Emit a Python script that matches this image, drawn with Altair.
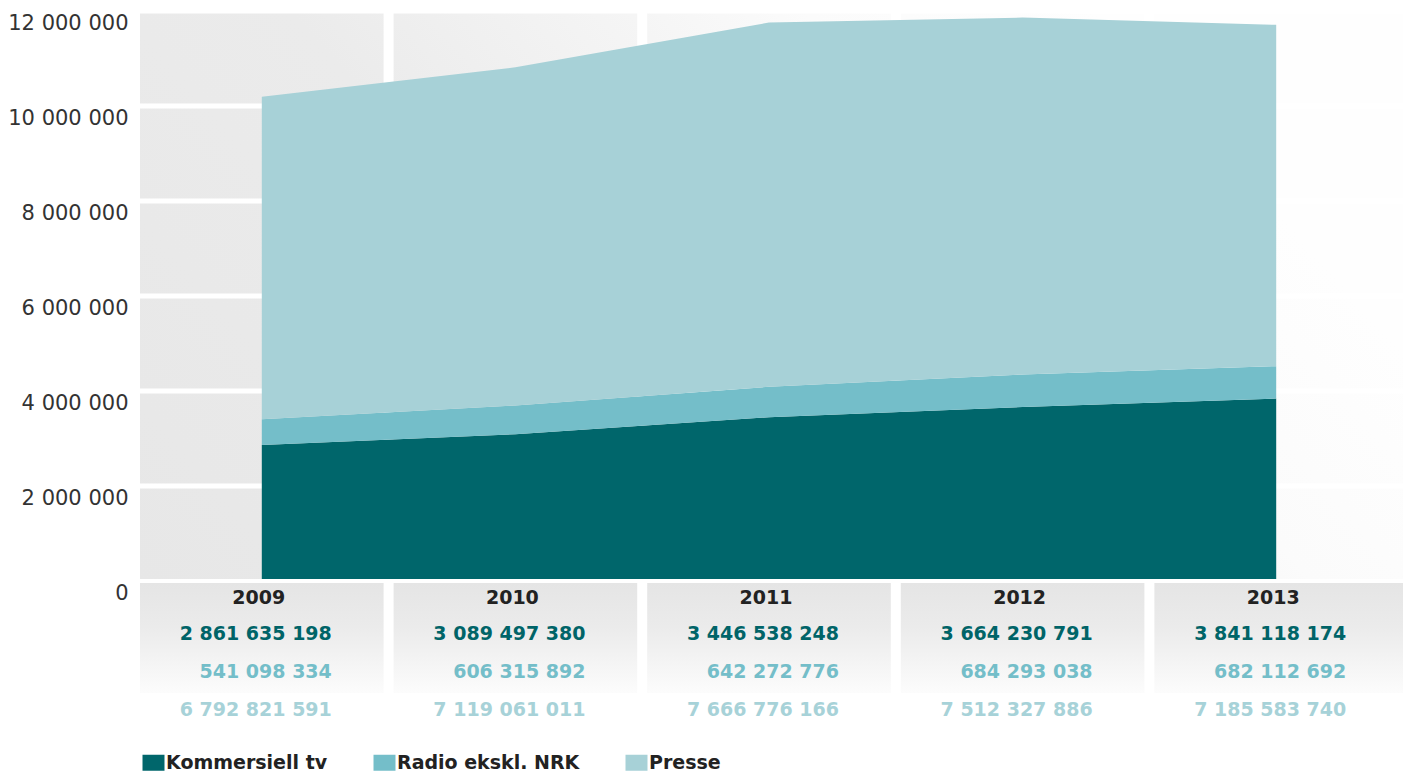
import altair as alt
import pandas as pd

# ---- data (NOK) ----
years = [2009, 2010, 2011, 2012, 2013]
series = ["Kommersiell tv", "Radio ekskl. NRK", "Presse"]
tv = [2861635198, 3089497380, 3446538248, 3664230791, 3841118174]
radio = [541098334, 606315892, 642272776, 684293038, 682112692]
presse = [6792821591, 7119061011, 7666776166, 7512327886, 7185583740]
yticks = [0, 2000000, 4000000, 6000000, 8000000, 10000000, 12000000]

colors = ["#00666b", "#74bec9", "#a7d1d7"]
text_colors = ["#006468", "#74bec9", "#a7d2d8"]

W, H = 1268, 570
FONT = "DejaVu Sans"

rows = []
for i, y in enumerate(years):
    for k, (s, vals) in enumerate(zip(series, [tv, radio, presse])):
        rows.append({"year": y, "series": s, "v": vals[i] / 1000.0, "ord": k})
long = pd.DataFrame(rows)

def fmt(n):
    return f"{n:,}".replace(",", " ")

table = pd.DataFrame({
    "year": years,
    "ylab": [str(y) for y in years],
    "tv": [fmt(v) for v in tv],
    "radio": [fmt(v) for v in radio],
    "presse": [fmt(v) for v in presse],
    "x0": [y - 0.5 for y in years],
    "x1": [y + 0.5 for y in years],
})
bg = pd.DataFrame({"x0": [years[0] - 0.5], "x1": [years[-1] + 0.5],
                   "v": [0], "v2": [yticks[-1]]})
hr = pd.DataFrame({"v": yticks[1:]})
zr = pd.DataFrame({"v": [0]})
vr = pd.DataFrame({"b": [y - 0.5 for y in years]})

xscale = alt.Scale(domain=[years[0] - 0.5, years[-1] + 0.5], nice=False, zero=False)
yscale = alt.Scale(domain=[0, yticks[-1]], nice=False)
yaxis = alt.Axis(values=yticks, grid=False, domain=False, ticks=False,
                 labelExpr="replace(format(datum.value, ','), regexp(',', 'g'), ' ')",
                 labelFont=FONT, labelFontSize=21, labelColor="#333333",
                 labelPadding=7, labelOffset=12, labelBaseline="middle", title=None)

bg_grad = alt.LinearGradient(
    gradient="linear", x1=0, y1=1, x2=1, y2=0.6,
    stops=[alt.GradientStop(color="#e7e7e7", offset=0),
           alt.GradientStop(color="#ebebeb", offset=0.45),
           alt.GradientStop(color="#f5f5f5", offset=0.68),
           alt.GradientStop(color="#fbfbfb", offset=0.8),
           alt.GradientStop(color="#fefefe", offset=1)])
tab_grad = alt.LinearGradient(
    gradient="linear", x1=0, y1=0, x2=0, y2=1,
    stops=[alt.GradientStop(color="#e5e5e5", offset=0),
           alt.GradientStop(color="#ebebeb", offset=0.4),
           alt.GradientStop(color="#fcfcfc", offset=1)])

background = alt.Chart(bg).mark_rect(color=bg_grad).encode(
    x=alt.X("x0:Q", scale=xscale, axis=None, title=None), x2="x1",
    y=alt.Y("v:Q", scale=yscale, axis=yaxis, title=None), y2="v2")

table_bg = alt.Chart(table).mark_rect(color=tab_grad).encode(
    x=alt.X("x0:Q", scale=xscale, axis=None, title=None), x2="x1",
    y=alt.value(H + 2), y2=alt.value(H + 112))

hrules = alt.Chart(hr).mark_rule(color="white", strokeWidth=5).encode(
    y=alt.Y("v:Q", scale=yscale, axis=yaxis, title=None))

vrules = alt.Chart(vr).mark_rule(color="white", strokeWidth=10).encode(
    x=alt.X("b:Q", scale=xscale, axis=None, title=None),
    y=alt.value(0), y2=alt.value(H + 115))

areas = alt.Chart(long).mark_area(opacity=1).encode(
    x=alt.X("year:Q", scale=xscale, axis=None, title=None),
    y=alt.Y("v:Q", stack="zero", scale=yscale, axis=yaxis, title=None),
    color=alt.Color("series:N", scale=alt.Scale(domain=series, range=colors),
                    legend=alt.Legend(
                        orient="none", legendX=9, legendY=742, direction="horizontal",
                        title=None, symbolType="M-1.375,-1H1.375V1H-1.375Z",
                        symbolSize=256, symbolStrokeWidth=0, symbolOpacity=1,
                        labelFont=FONT, labelFontWeight="bold", labelFontSize=19,
                        labelColor="#222222", labelOffset=3, columnPadding=45,
                        labelLimit=0, padding=0)),
    order=alt.Order("ord:Q"))

zrule = alt.Chart(zr).mark_rule(color="white", strokeWidth=4).encode(
    y=alt.Y("v:Q", scale=yscale, axis=yaxis, title=None))

def txt(field, color, dy, align, dx):
    return alt.Chart(table).mark_text(
        font=FONT, fontSize=19, fontWeight="bold", color=color,
        align=align, baseline="middle", dx=dx).encode(
        x=alt.X("year:Q", scale=xscale, axis=None, title=None),
        y=alt.value(H + dy), text=f"{field}:N")

t_year = txt("ylab", "#222222", 17, "center", -3)
t_tv = txt("tv", text_colors[0], 53, "right", 70)
t_radio = txt("radio", text_colors[1], 91, "right", 70)
t_presse = txt("presse", text_colors[2], 129, "right", 70)

chart = alt.layer(
    background, table_bg, hrules, vrules, areas, zrule,
    t_year, t_tv, t_radio, t_presse
).properties(
    width=W, height=H,
    autosize=alt.AutoSizeParams(type="none"),
    padding={"left": 127, "top": 3, "right": 0, "bottom": 195},
).configure_view(stroke=None).configure(background="white")

chart.save("out.html", embed_options={"renderer": "svg", "actions": False})
